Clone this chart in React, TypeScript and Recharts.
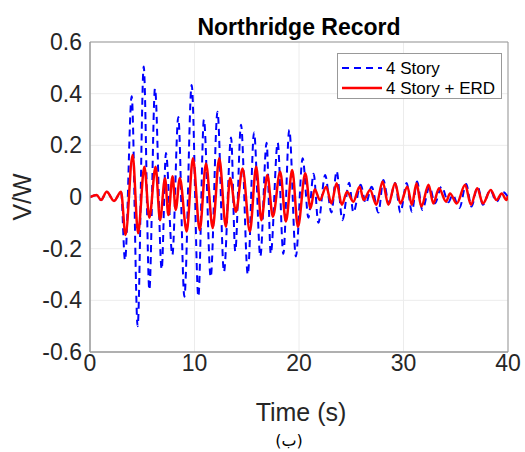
import { LineChart, Line, XAxis, YAxis, CartesianGrid, ReferenceArea } from 'recharts';

// 4 Story (dashed blue) - peaks and troughs
const storyTime = [
  0, 0.64, 1.05, 1.6, 2.3, 2.97, 3.35, 3.99, 4.56, 5.14, 5.68, 6.22, 6.86, 7.27, 7.88, 8.45,
  9.03, 9.73, 10.37, 10.9, 11.55, 12.2, 12.82, 13.5, 13.9, 14.45, 15.1, 15.7, 16.3, 16.9, 17.3,
  17.96, 18.5, 19.07, 19.7, 20.35, 20.9, 21.4, 21.85, 22.5, 23.1, 23.6, 24.15, 24.8, 25.2, 25.9,
  26.4, 26.95, 27.6, 28.07, 28.6, 29.2, 29.7, 30.3, 30.8, 31.3, 31.8, 32.5, 33.0, 33.65, 34.3,
  34.7, 35.35, 36.0, 36.5, 37.1, 37.6, 38.3, 38.9, 39.5, 40,
];
const storyValue = [
  0, 0.008, -0.012, 0.02, -0.015, 0.02, -0.245, 0.39, -0.5, 0.505, -0.36, 0.42, -0.28, 0.17,
  -0.225, 0.31, -0.386, 0.434, -0.386, 0.3, -0.31, 0.33, -0.29, 0.23, -0.21, 0.28, -0.3, 0.25,
  -0.23, 0.21, -0.22, 0.21, -0.22, 0.26, -0.23, 0.15, -0.08, 0.09, -0.1, 0.085, -0.06, 0.1,
  -0.09, 0.055, -0.06, 0.047, -0.025, 0.04, -0.06, 0.066, -0.025, 0.054, -0.06, 0.054, -0.057,
  0.06, -0.05, 0.04, -0.025, 0.04, -0.02, 0.008, -0.043, 0.05, -0.037, 0.04, -0.03, 0.027,
  -0.018, 0.02, 0,
];

// 4 Story + ERD (solid red)
const erdTime = [
  0, 0.64, 1.05, 1.6, 2.3, 2.97, 3.4, 4.08, 4.6, 5.2, 5.68, 6.28, 6.7, 7.18, 7.5, 7.9, 8.2, 8.6,
  9.25, 9.85, 10.5, 11.1, 11.74, 12.37, 13.0, 13.4, 13.97, 14.6, 15.3, 15.9, 16.4, 16.97, 17.5,
  18.2, 18.75, 19.35, 19.9, 20.6, 21.1, 21.5, 22.0, 22.6, 23.1, 23.6, 24.1, 24.6, 25.2, 25.8,
  26.2, 26.8, 27.4, 28.0, 28.55, 29.2, 29.7, 30.37, 30.8, 31.25, 31.7, 32.4, 32.85, 33.4, 34.07,
  34.45, 35.1, 35.9, 36.45, 37.06, 37.6, 38.35, 38.9, 39.4, 39.85, 40,
];
const erdValue = [
  0, 0.008, -0.012, 0.02, -0.015, 0.02, -0.147, 0.163, -0.14, 0.117, -0.08, 0.117, -0.09, 0.073,
  -0.07, 0.08, -0.05, 0.074, -0.134, 0.15, -0.128, 0.13, -0.12, 0.15, -0.115, 0.074, -0.057,
  0.11, -0.134, 0.117, -0.09, 0.085, -0.076, 0.098, -0.095, 0.105, -0.115, 0.092, -0.044, 0.03,
  -0.012, 0.04, -0.025, 0.053, -0.03, 0.02, -0.018, 0.04, -0.012, 0.027, -0.03, 0.06, -0.03,
  0.053, -0.025, 0.04, -0.03, 0.053, -0.037, 0.047, -0.025, 0.034, -0.018, 0.014, -0.025, 0.047,
  -0.03, 0.034, -0.025, 0.027, -0.012, 0.014, -0.012, 0.005,
];

const timeTicks = [0, 10, 20, 30, 40];
const vwTicks = [-0.6, -0.4, -0.2, 0, 0.2, 0.4, 0.6];
const seriesNames = ['4 Story', '4 Story + ERD'];

const storyData = storyTime.map((t, i) => ({ t, v: storyValue[i] }));
const erdData = erdTime.map((t, i) => ({ t, v: erdValue[i] }));

const font = '"Liberation Sans", Arial, Helvetica, sans-serif';
const textColor = '#262626';

export default function App() {
  return (
    <div style={{ position: 'absolute', left: 0, top: 0, width: 525, height: 452, background: '#fff' }}>
      <LineChart width={525} height={452} margin={{ top: 42, right: 17, left: 0, bottom: 70 }}>
        <CartesianGrid stroke="#ececec" strokeWidth={1} />
        <XAxis
          dataKey="t"
          type="number"
          domain={[0, 40]}
          ticks={timeTicks}
          height={30}
          tickSize={0}
          tickMargin={3}
          axisLine={{ stroke: '#999' }}
          tick={{ fill: textColor, fontSize: 23, fontFamily: font }}
          allowDataOverflow
        />
        <YAxis
          type="number"
          domain={[-0.6, 0.6]}
          ticks={vwTicks}
          width={90}
          tickSize={0}
          tickMargin={8}
          axisLine={{ stroke: '#999' }}
          tick={{ fill: textColor, fontSize: 23, fontFamily: font }}
          tickFormatter={(v: number) => String(Number(v.toFixed(1)))}
          allowDataOverflow
        />
        <Line
          data={storyData}
          dataKey="v"
          type="monotone"
          stroke="#0000ff"
          strokeWidth={2}
          strokeDasharray="7 5"
          dot={false}
          isAnimationActive={false}
        />
        <Line
          data={erdData}
          dataKey="v"
          type="monotone"
          stroke="#ff0000"
          strokeWidth={2.5}
          dot={false}
          isAnimationActive={false}
        />
        <ReferenceArea x1={0} x2={40} y1={-0.6} y2={0.6} fill="none" stroke="#999" strokeWidth={1} />
      </LineChart>
      <svg width={525} height={452} style={{ position: 'absolute', left: 0, top: 0, pointerEvents: 'none' }}>
        <text x={299} y={35} textAnchor="middle" fontFamily={font} fontSize={23} fontWeight="bold" fill="#000">
          Northridge Record
        </text>
        <text transform="translate(31,197) rotate(-90)" textAnchor="middle" fontFamily={font} fontSize={25} fill={textColor}>
          V/W
        </text>
        <text x={301} y={421} textAnchor="middle" fontFamily={font} fontSize={25} fill={textColor}>
          Time (s)
        </text>
        <text x={289} y={446} textAnchor="middle" fontFamily='"DejaVu Sans", sans-serif' fontSize={16} fill="#000">
          (ب)
        </text>
        <rect x={337.5} y={53.5} width={164} height={45} fill="#fff" stroke="#999" />
        <line x1={342} x2={382} y1={68} y2={68} stroke="#0000ff" strokeWidth={2} strokeDasharray="7 5" />
        <text x={386} y={74} fontFamily={font} fontSize={17} fill="#000">{seriesNames[0]}</text>
        <line x1={342} x2={382} y1={88} y2={88} stroke="#ff0000" strokeWidth={2.5} />
        <text x={386} y={94} fontFamily={font} fontSize={17} fill="#000">{seriesNames[1]}</text>
      </svg>
    </div>
  );
}
